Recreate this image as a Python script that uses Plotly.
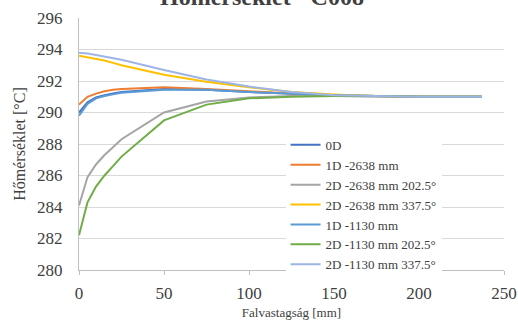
import plotly.graph_objects as go

x = [0, 5, 10, 15, 20, 25, 50, 75, 100, 125, 150, 175, 200, 237]

names = ["0D", "1D -2638 mm", "2D -2638 mm 202.5°", "2D -2638 mm 337.5°",
         "1D -1130 mm", "2D -1130 mm 202.5°", "2D -1130 mm 337.5°"]

t_0d = [290.0, 290.65, 290.95, 291.1, 291.2, 291.3, 291.5, 291.45, 291.3, 291.2, 291.1, 291.05, 291.0, 291.0]
t_1d_2638 = [290.5, 291.0, 291.2, 291.35, 291.45, 291.5, 291.6, 291.5, 291.35, 291.2, 291.1, 291.05, 291.0, 291.0]
t_2d_2638_202 = [284.1, 285.9, 286.7, 287.3, 287.8, 288.3, 290.0, 290.7, 290.95, 291.05, 291.05, 291.0, 291.0, 291.0]
t_2d_2638_337 = [293.6, 293.5, 293.4, 293.3, 293.15, 293.0, 292.4, 291.95, 291.6, 291.3, 291.15, 291.05, 291.0, 291.0]
t_1d_1130 = [289.8, 290.55, 290.9, 291.05, 291.15, 291.25, 291.45, 291.45, 291.3, 291.2, 291.1, 291.05, 291.0, 291.0]
t_2d_1130_202 = [282.2, 284.3, 285.3, 286.0, 286.6, 287.2, 289.5, 290.5, 290.9, 291.0, 291.05, 291.05, 291.0, 291.0]
t_2d_1130_337 = [293.8, 293.75, 293.65, 293.55, 293.45, 293.35, 292.7, 292.1, 291.65, 291.3, 291.1, 291.05, 291.0, 291.0]

series = [t_0d, t_1d_2638, t_2d_2638_202, t_2d_2638_337, t_1d_1130, t_2d_1130_202, t_2d_1130_337]
colors = ["#4472C4", "#ED7D31", "#A5A5A5", "#FFC000", "#5B9BD5", "#70AD47", "#9DB4E4"]

y_ticks = [280, 282, 284, 286, 288, 290, 292, 294, 296]
x_ticks = [0, 50, 100, 150, 200, 250]

fig = go.Figure()
for i in range(7):
    fig.add_trace(go.Scatter(x=x, y=series[i], mode="lines", name=names[i],
                             line=dict(color=colors[i], width=2)))

serif = "Liberation Serif, Times New Roman, DejaVu Serif, serif"
fig.update_layout(
    width=518, height=322,
    margin=dict(l=79, r=14, t=18, b=52, autoexpand=False),
    paper_bgcolor="white", plot_bgcolor="white",
    font=dict(family=serif, color="#404040", size=14),
    showlegend=True,
    legend=dict(x=0.486, y=0.556, xanchor="left", yanchor="top",
                bgcolor="white", font=dict(family=serif, size=13, color="#404040"),
                tracegroupgap=0, itemwidth=30),
)
fig.update_xaxes(range=[0, 250], tickvals=x_ticks, showgrid=False,
                 showline=True, linecolor="#BFBFBF", linewidth=1,
                 ticks="outside", ticklen=4, tickcolor="#BFBFBF",
                 ticklabelstandoff=4, automargin=False,
                 tickfont=dict(family=serif, size=17, color="#404040"),
                 title=dict(text="Falvastagság [mm]", font=dict(family=serif, size=13, color="#404040"), standoff=5),
                 zeroline=False)
fig.update_yaxes(range=[280, 296], tickvals=y_ticks, showgrid=True, gridcolor="#D9D9D9", gridwidth=1,
                 showline=True, linecolor="#BFBFBF", linewidth=1,
                 ticks="", ticklabelstandoff=12, automargin=False,
                 tickfont=dict(family=serif, size=17, color="#404040"),
                 title=dict(text="Hőmérséklet [°C]", font=dict(family=serif, size=16, color="#404040"), standoff=7),
                 zeroline=False)
fig.add_annotation(text="<b>Hőmérséklet - C008</b>", xref="paper", yref="paper",
                   x=0.43, y=1, xanchor="center", yanchor="bottom", yshift=6,
                   showarrow=False, font=dict(family=serif, size=24, color="#404040"))
fig.write_html("out.html")
